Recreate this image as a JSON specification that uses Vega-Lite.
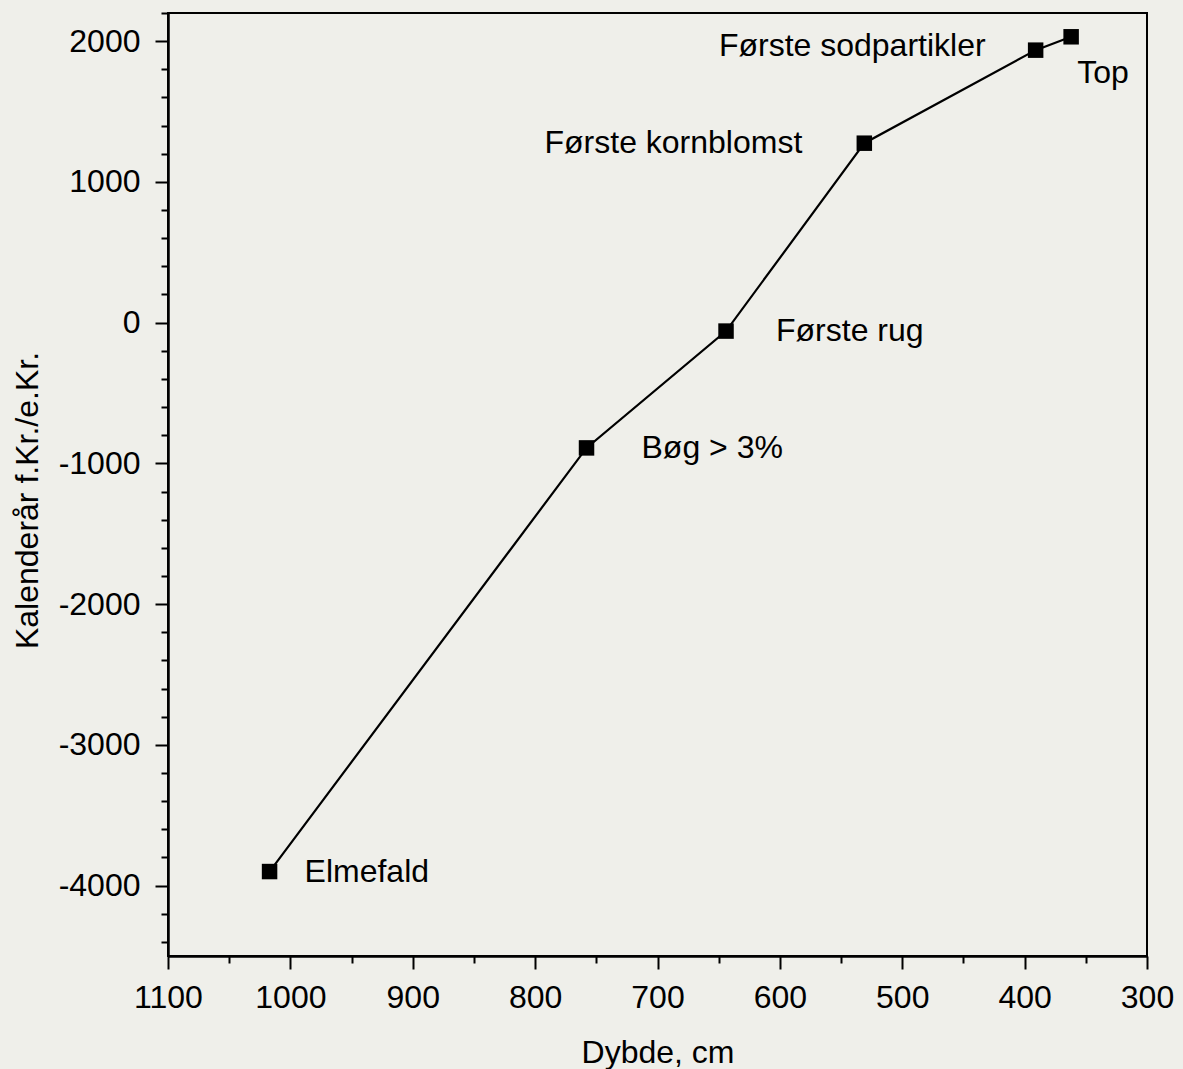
{
  "$schema": "https://vega.github.io/schema/vega-lite/v6.json",
  "width": 979,
  "height": 943,
  "autosize": {"type": "none"},
  "padding": {"left": 168, "top": 13, "right": 36, "bottom": 113},
  "background": "#efefea",
  "config": {
    "view": {"stroke": "black", "strokeWidth": 2, "fill": null},
    "font": "Liberation Sans",
    "axis": {"grid": false, "domainColor": "black", "tickColor": "black", "labelColor": "black", "titleColor": "black", "domainWidth": 2.5, "tickWidth": 2}
  },
  "data": {"values": [
    {"depth": 1017, "year": -3900, "label": "Elmefald"},
    {"depth": 758, "year": -890, "label": "Bøg > 3%"},
    {"depth": 644, "year": -60, "label": "Første rug"},
    {"depth": 531, "year": 1275, "label": "Første kornblomst"},
    {"depth": 391, "year": 1936, "label": "Første sodpartikler"},
    {"depth": 362, "year": 2031, "label": "Top"}
  ]},
  "resolve": {"axis": {"x": "independent", "y": "independent"}},
  "layer": [
    {
      "mark": {"type": "line", "color": "black", "strokeWidth": 2.2},
      "encoding": {
        "x": {"field": "depth", "type": "quantitative", "scale": {"domain": [300, 1100], "reverse": true, "nice": false, "zero": false},
          "axis": {"orient": "bottom", "values": [300, 400, 500, 600, 700, 800, 900, 1000, 1100], "tickSize": 13, "labelPadding": 38, "labelBaseline": "alphabetic", "labelFontSize": 32, "labelFlush": false, "labelOverlap": false, "labelExpr": "datum.value + ''",
            "title": "Dybde, cm", "titleFontSize": 32, "titleFontWeight": "normal", "titleBaseline": "alphabetic", "titleY": 106}},
        "y": {"field": "year", "type": "quantitative", "scale": {"domain": [-4500, 2200], "nice": false, "zero": false},
          "axis": {"orient": "left", "values": [-4000, -3000, -2000, -1000, 0, 1000, 2000], "tickSize": 13, "labelPadding": 15, "labelFontSize": 32, "labelFlush": false, "labelOverlap": false, "labelExpr": "datum.value + ''",
            "title": "Kalenderår f.Kr./e.Kr.", "titleFontSize": 32, "titleFontWeight": "normal", "titleBaseline": "alphabetic", "titleX": -131, "titleY": 487}}
      }
    },
    {
      "mark": {"type": "point", "opacity": 0},
      "encoding": {
        "x": {"field": "depth", "type": "quantitative",
          "axis": {"orient": "bottom", "values": [350, 450, 550, 650, 750, 850, 950, 1050], "tickSize": 7, "labels": false, "domain": false, "title": null}},
        "y": {"field": "year", "type": "quantitative",
          "axis": {"orient": "left", "values": [-4400, -4200, -3800, -3600, -3400, -3200, -2800, -2600, -2400, -2200, -1800, -1600, -1400, -1200, -800, -600, -400, -200, 200, 400, 600, 800, 1200, 1400, 1600, 1800, 2200], "tickSize": 7, "labels": false, "domain": false, "title": null}}
      }
    },
    {
      "mark": {"type": "point", "shape": "square", "filled": true, "color": "black", "opacity": 1, "size": 240},
      "encoding": {
        "x": {"field": "depth", "type": "quantitative", "axis": null},
        "y": {"field": "year", "type": "quantitative", "axis": null}
      }
    },
    {
      "transform": [{"filter": "datum.label == 'Elmefald'"}],
      "mark": {"type": "text", "align": "left", "baseline": "middle", "dx": 35, "fontSize": 32, "color": "black"},
      "encoding": {
        "x": {"field": "depth", "type": "quantitative", "axis": null},
        "y": {"field": "year", "type": "quantitative", "axis": null},
        "text": {"field": "label"}
      }
    },
    {
      "transform": [{"filter": "datum.label == 'Bøg > 3%'"}],
      "mark": {"type": "text", "align": "left", "baseline": "middle", "dx": 55, "fontSize": 32, "color": "black"},
      "encoding": {
        "x": {"field": "depth", "type": "quantitative", "axis": null},
        "y": {"field": "year", "type": "quantitative", "axis": null},
        "text": {"field": "label"}
      }
    },
    {
      "transform": [{"filter": "datum.label == 'Første rug'"}],
      "mark": {"type": "text", "align": "left", "baseline": "middle", "dx": 50, "fontSize": 32, "color": "black"},
      "encoding": {
        "x": {"field": "depth", "type": "quantitative", "axis": null},
        "y": {"field": "year", "type": "quantitative", "axis": null},
        "text": {"field": "label"}
      }
    },
    {
      "transform": [{"filter": "datum.label == 'Første kornblomst'"}],
      "mark": {"type": "text", "align": "right", "baseline": "middle", "dx": -62, "fontSize": 32, "color": "black"},
      "encoding": {
        "x": {"field": "depth", "type": "quantitative", "axis": null},
        "y": {"field": "year", "type": "quantitative", "axis": null},
        "text": {"field": "label"}
      }
    },
    {
      "transform": [{"filter": "datum.label == 'Første sodpartikler'"}],
      "mark": {"type": "text", "align": "right", "baseline": "middle", "dx": -50, "dy": -4, "fontSize": 32, "color": "black"},
      "encoding": {
        "x": {"field": "depth", "type": "quantitative", "axis": null},
        "y": {"field": "year", "type": "quantitative", "axis": null},
        "text": {"field": "label"}
      }
    },
    {
      "transform": [{"filter": "datum.label == 'Top'"}],
      "mark": {"type": "text", "align": "left", "baseline": "middle", "dx": 6, "dy": 36, "fontSize": 32, "color": "black"},
      "encoding": {
        "x": {"field": "depth", "type": "quantitative", "axis": null},
        "y": {"field": "year", "type": "quantitative", "axis": null},
        "text": {"field": "label"}
      }
    }
  ]
}
